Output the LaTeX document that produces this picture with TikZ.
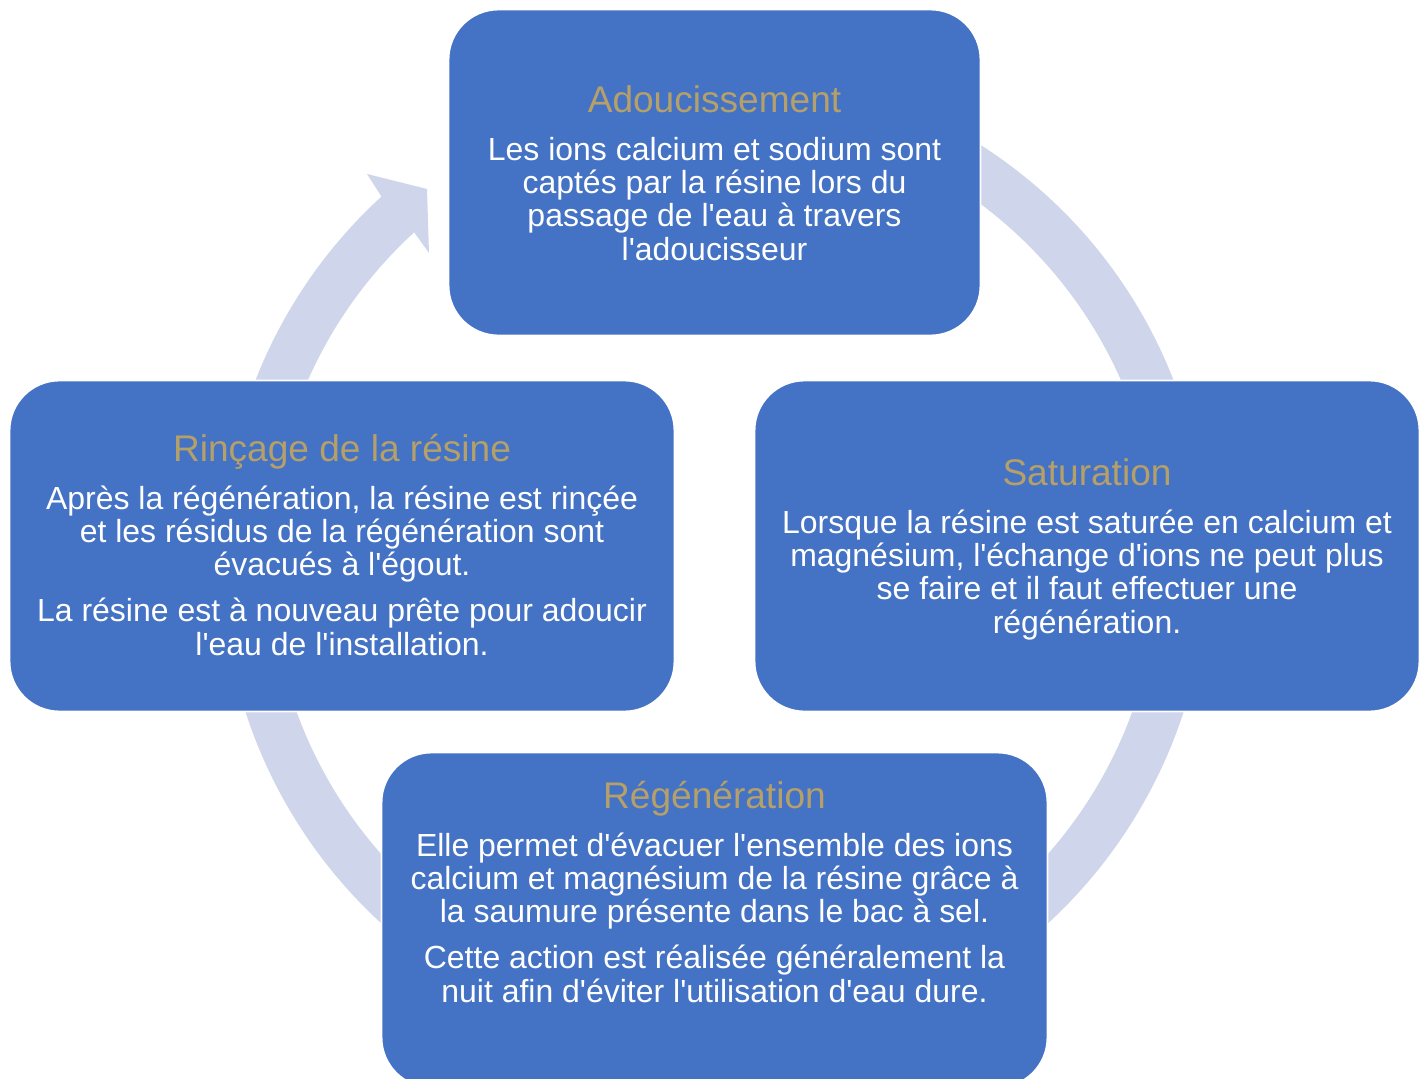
\documentclass[tikz,border=0pt]{standalone}
\usepackage{fontspec}
\setmainfont{Liberation Sans}[Ligatures=TeXOff]
\definecolor{boxblue}{HTML}{4472C4}
\definecolor{ringblue}{HTML}{CFD5EA}
\definecolor{titlegold}{RGB}{181,160,106}
\newcommand{\steptitle}[1]{{\fontsize{21.1}{22}\selectfont\color{titlegold}#1}}
\begin{document}
\begin{tikzpicture}[x=0.02cm,y=-0.02cm]
            \useasboundingbox (0,0) rectangle (1426,1078);
            \fill[ringblue] (714.5,560) ++(-60:493) arc[start angle=-60,end angle=227.5,radius=493]
                -- (367,174) -- (427,189) -- (429,253) -- (414.2,232.3)
                arc[start angle=227.5,end angle=-60,radius=444.5] -- cycle;
            \begin{scope}[every node/.style={rectangle,rounded corners=1cm,fill=boxblue,draw=white,line width=1pt,inner sep=0pt}]
                \node[minimum width=10.64cm,minimum height=6.52cm] (adou) at (714.5,172.5) {};
                \node[minimum width=13.3cm,minimum height=6.62cm] (satu) at (1087,546) {};
                \node[minimum width=13.32cm,minimum height=6.7cm] (rege) at (714.5,920) {};
                \node[minimum width=13.3cm,minimum height=6.62cm] (rinc) at (342,546) {};
            \end{scope}
            \begin{scope}[every node/.style={align=center,text=white,anchor=base,inner sep=0pt,font=\fontsize{18.2}{18.9}\selectfont}]
                \node (adou-txt) at (714.5,260) {\steptitle{Adoucissement}\\[8.5pt]
                    Les ions calcium et sodium sont\\
                    captés par la résine lors du\\
                    passage de l'eau à travers\\
                    l'adoucisseur};
                \node (satu-txt) at (1087,633) {\steptitle{Saturation}\\[8.5pt]
                    Lorsque la résine est saturée en calcium et\\
                    magnésium, l'échange d'ions ne peut plus\\
                    se faire et il faut effectuer une\\
                    régénération.};
                \node (rege-txt) at (714.5,1002) {\steptitle{Régénération}\\[8.5pt]
                    Elle permet d'évacuer l'ensemble des ions\\
                    calcium et magnésium de la résine grâce à\\
                    la saumure présente dans le bac à sel.\\[7.2pt]
                    Cette action est réalisée généralement la\\
                    nuit afin d'éviter l'utilisation d'eau dure.};
                \node (rinc-txt) at (342,655) {\steptitle{Rinçage de la résine}\\[8.5pt]
                    Après la régénération, la résine est rinçée\\
                    et les résidus de la régénération sont\\
                    évacués à l'égout.\\[7.2pt]
                    La résine est à nouveau prête pour adoucir\\
                    l'eau de l'installation.};
            \end{scope}
\end{tikzpicture}
\end{document}
